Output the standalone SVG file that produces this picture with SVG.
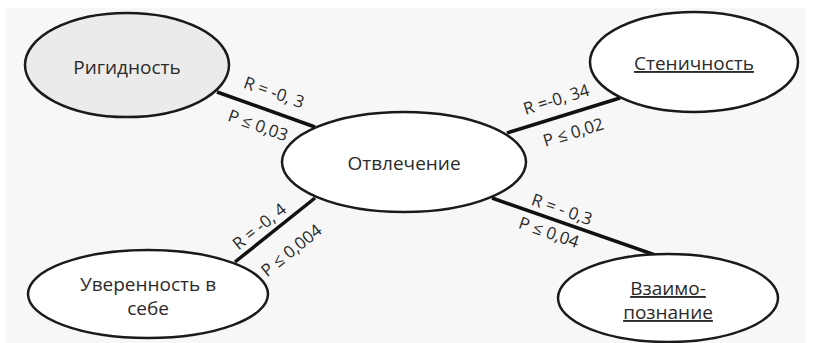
<svg xmlns="http://www.w3.org/2000/svg" width="813" height="343" viewBox="0 0 813 343">
<style>
.node{fill:#ffffff;stroke:#1a1a1a;stroke-width:2.5}
.gray{fill:#ebebeb}
.t{font-family:"Open Sans","DejaVu Sans",sans-serif;font-size:19px;fill:#2a2a2a;text-anchor:middle}
.u{text-decoration:underline}
.lbl{font-family:"Open Sans","DejaVu Sans",sans-serif;font-size:17px;fill:#2a2a2a;text-anchor:middle}
.edge{stroke:#111;stroke-width:3.5;fill:none}
</style>
<rect x="0" y="0" width="813" height="343" fill="#ffffff"/>
<rect x="6" y="8" width="800" height="335" fill="#f7f7f7"/>
<g id="connectors">
<line class="edge" x1="217" y1="92" x2="315" y2="127"/>
<line class="edge" x1="507" y1="133" x2="620" y2="98"/>
<line class="edge" x1="235" y1="262" x2="315" y2="198"/>
<line class="edge" x1="492" y1="198" x2="655" y2="255"/>
<text class="lbl" transform="translate(272,98) rotate(19.6)">R = -0, 3</text>
<text class="lbl" transform="translate(256,131) rotate(19.6)">P ≤ 0,03</text>
<text class="lbl" transform="translate(558,105) rotate(-17)">R =-0, 34</text>
<text class="lbl" transform="translate(575,138) rotate(-17)">P ≤ 0,02</text>
<text class="lbl" transform="translate(263,231) rotate(-38.7)">R = -0, 4</text>
<text class="lbl" transform="translate(295,255) rotate(-38.7)">P ≤ 0,004</text>
<text class="lbl" transform="translate(560,215) rotate(19.3)">R = - 0,3</text>
<text class="lbl" transform="translate(547,238) rotate(19.3)">P ≤ 0,04</text>
</g>
<g id="rigidnost">
<ellipse class="node gray" cx="127" cy="65" rx="102" ry="52"/>
<text class="t" x="127" y="74">Ригидность</text>
</g>
<g id="stenichnost">
<ellipse class="node" cx="694" cy="62" rx="104" ry="50"/>
<text class="t u" x="694" y="70">Стеничность</text>
</g>
<g id="otvlechenie">
<ellipse class="node" cx="404" cy="162" rx="122" ry="50"/>
<text class="t" x="404" y="170">Отвлечение</text>
</g>
<g id="uverennost">
<ellipse class="node" cx="148" cy="294" rx="120" ry="44"/>
<text class="t" x="148" y="291">Уверенность в</text>
<text class="t" x="148" y="315">себе</text>
</g>
<g id="vzaimo">
<ellipse class="node" cx="668" cy="298" rx="110" ry="44"/>
<text class="t u" x="668" y="295">Взаимо-</text>
<text class="t u" x="668" y="319">познание</text>
</g>
</svg>
